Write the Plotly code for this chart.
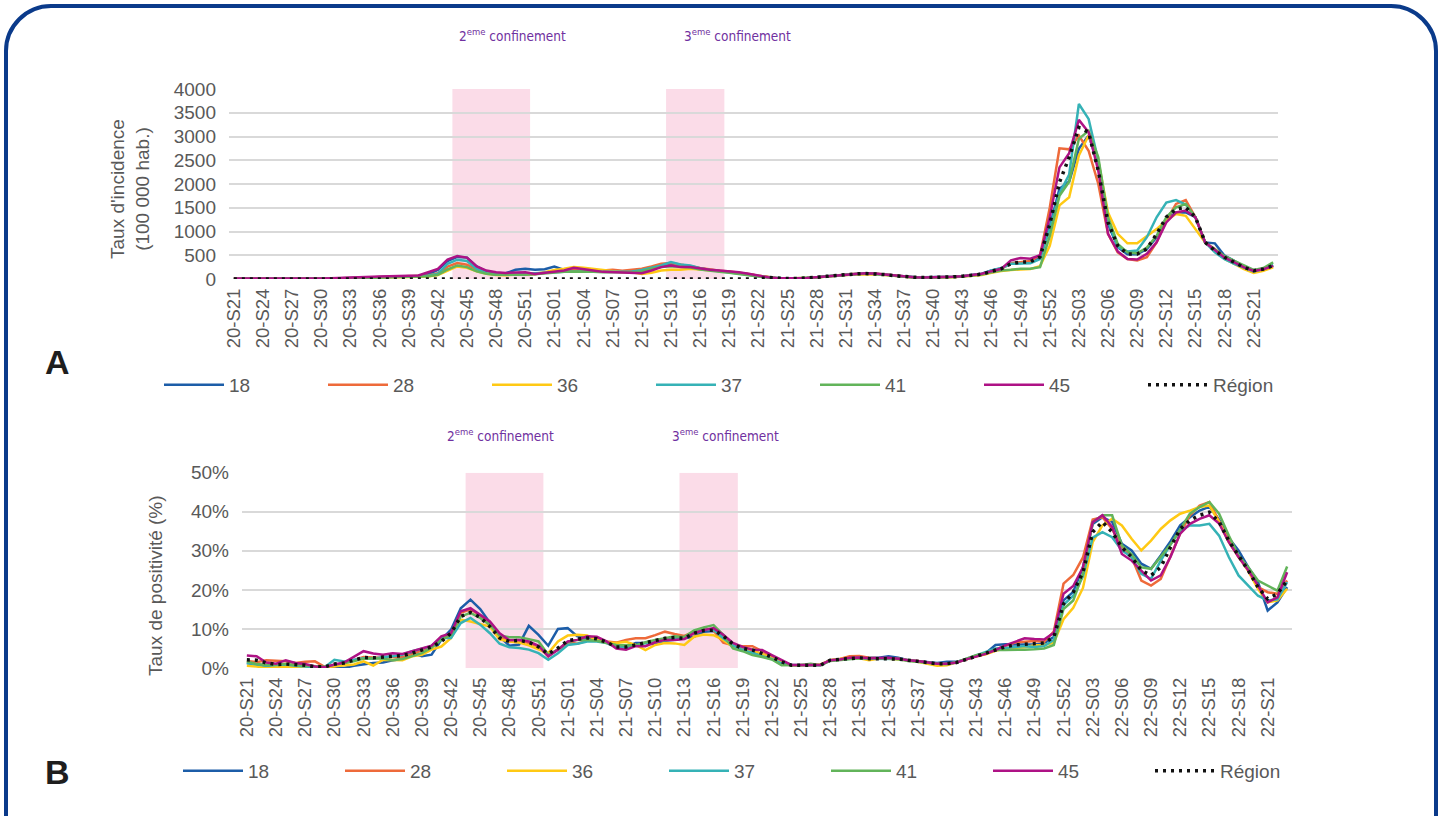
import plotly.graph_objects as go

# weekly categories 2020-S21 .. 2022-S23
weeks = ([f"20-S{w:02d}" for w in range(21, 54)]
         + [f"21-S{w:02d}" for w in range(1, 53)]
         + [f"22-S{w:02d}" for w in range(1, 24)])
tick_labels = weeks[::3]

departments = ["18", "28", "36", "37", "41", "45", "Région"]
colors = ["#1C5DA8", "#EE6A3A", "#FFC914", "#35B2B6", "#62B45A", "#AE1285", "#111111"]

# incidence rate (per 100 000 inhabitants)
inc_18 = [6, 5, 4, 4, 5, 5, 5, 6, 6, 8, 10, 15, 22, 28, 35, 40, 45, 50, 55, 62, 100, 190,
          378, 464, 450, 264, 160, 125, 120, 193, 214, 193, 207, 260, 190, 170, 160, 155, 150, 145,
          150, 160, 170, 220, 260, 300, 280, 270, 220, 190, 170, 150, 130, 100, 65, 35, 18, 12,
          14, 20, 35, 55, 78, 95, 105, 115, 110, 95, 72, 52, 40, 35, 35, 40, 45, 60, 80, 110,
          178, 220, 330, 350, 340, 460, 1100, 1900, 2050, 2740, 3020, 2420, 1160, 670, 520, 520,
          630, 880, 1260, 1400, 1400, 1300, 770, 750, 490, 380, 250, 175, 210, 280]
inc_28 = [5, 5, 4, 4, 5, 6, 5, 6, 7, 8, 10, 15, 20, 27, 33, 38, 43, 48, 52, 58, 75, 120,
          260, 335, 300, 200, 125, 95, 85, 88, 95, 100, 130, 150, 160, 190, 175, 165, 180, 193,
          175, 200, 214, 264, 321, 335, 307, 270, 230, 195, 175, 160, 140, 105, 70, 35, 15, 10,
          14, 22, 38, 60, 80, 95, 110, 120, 118, 95, 72, 50, 38, 32, 32, 38, 45, 58, 75, 100,
          160, 214, 330, 360, 380, 500, 1500, 2750, 2730, 3020, 2700, 2000, 950, 560, 420, 390,
          460, 770, 1230, 1580, 1660, 1300, 770, 630, 470, 370, 250, 170, 200, 270]
inc_36 = [3, 3, 3, 3, 4, 4, 4, 5, 5, 6, 8, 10, 14, 18, 22, 26, 30, 35, 40, 45, 55, 85,
          170, 264, 235, 160, 110, 85, 80, 85, 95, 110, 143, 190, 215, 250, 235, 214, 190, 170,
          143, 140, 107, 130, 178, 193, 195, 214, 200, 180, 165, 150, 125, 95, 60, 30, 14, 10,
          13, 20, 33, 52, 72, 85, 95, 100, 98, 85, 65, 45, 32, 26, 25, 30, 38, 50, 65, 85,
          130, 170, 190, 200, 210, 270, 700, 1550, 1720, 2600, 3020, 2490, 1400, 950, 750, 750,
          910, 1050, 1230, 1370, 1330, 1050, 770, 600, 420, 320, 210, 125, 175, 245]
inc_37 = [4, 4, 3, 3, 4, 5, 5, 5, 6, 7, 9, 13, 18, 24, 30, 35, 40, 45, 50, 56, 70, 110,
          321, 407, 378, 214, 121, 93, 90, 95, 110, 115, 120, 140, 150, 160, 160, 150, 150, 150,
          150, 160, 190, 235, 285, 357, 307, 285, 225, 190, 165, 150, 130, 100, 65, 33, 14, 10,
          13, 22, 36, 57, 78, 93, 107, 120, 112, 92, 70, 50, 38, 32, 32, 38, 45, 57, 75, 105,
          178, 230, 320, 330, 330, 420, 1050, 1800, 2200, 3685, 3370, 2490, 1230, 670, 580, 600,
          880, 1300, 1610, 1660, 1570, 1300, 770, 560, 420, 320, 245, 160, 210, 300]
inc_41 = [3, 3, 3, 3, 4, 4, 4, 5, 5, 6, 8, 11, 15, 20, 25, 30, 34, 38, 43, 48, 58, 90,
          200, 285, 250, 160, 110, 90, 85, 85, 90, 100, 120, 140, 150, 160, 160, 150, 140, 140,
          135, 140, 160, 214, 250, 270, 260, 240, 200, 170, 150, 130, 110, 80, 50, 25, 12, 9,
          12, 20, 33, 52, 72, 88, 100, 110, 108, 88, 66, 46, 34, 28, 28, 34, 42, 54, 70, 95,
          140, 180, 193, 214, 214, 250, 900, 1750, 2050, 2950, 3120, 2560, 1300, 740, 560, 540,
          660, 910, 1300, 1510, 1580, 1300, 770, 630, 480, 380, 280, 190, 230, 350]
inc_45 = [8, 7, 6, 6, 7, 8, 8, 9, 10, 12, 15, 25, 32, 40, 46, 52, 58, 64, 70, 76, 143, 214,
          407, 485, 450, 264, 178, 143, 128, 136, 140, 107, 128, 150, 180, 235, 214, 180, 150, 140,
          130, 125, 121, 180, 250, 285, 250, 250, 214, 193, 178, 164, 143, 110, 72, 36, 15, 10,
          14, 22, 37, 58, 80, 95, 110, 122, 115, 95, 72, 50, 38, 32, 33, 38, 45, 58, 78, 110,
          165, 214, 393, 443, 428, 500, 1300, 2350, 2650, 3350, 3090, 2280, 950, 580, 420, 410,
          530, 770, 1190, 1400, 1440, 1300, 770, 600, 450, 350, 245, 170, 205, 275]
inc_region = [0] * 55 + [
          32, 13, 10, 13, 21, 36, 56, 77, 92, 106, 117, 113, 93, 70, 49, 37, 31, 31, 37, 44, 57,
          75, 102, 160, 214, 321, 357, 360, 464, 1150, 2035, 2560, 3190, 3090, 2280, 1190, 700,
          526, 526, 632, 947, 1300, 1470, 1510, 1300, 772, 600, 456, 351, 246, 175, 210, 281]

# positivity rate (%)
pos_18 = [1.3, 0.9, 0.3, 0.0, 0.4, 0.6, 0.5, 0.3, 0.2, 0.2, 0.0, 0.6, 1.0, 1.3, 1.4, 2.0, 2.3,
          3.8, 3.0, 3.4, 7.2, 9.8, 15.3, 17.5, 15.1, 11.5, 8.1, 5.7, 6.0, 10.8, 8.5, 5.7, 10.0,
          10.2, 8.1, 7.7, 7.2, 6.5, 5.8, 5.4, 6.4, 6.4, 6.0, 7.0, 7.2, 7.6, 8.0, 9.3, 9.5, 8.0,
          6.0, 4.8, 4.4, 3.5, 2.6, 1.5, 0.8, 0.8, 0.7, 0.8, 2.0, 2.2, 2.4, 2.6, 2.6, 2.6, 3.0,
          2.6, 2.0, 1.8, 1.5, 1.3, 1.6, 1.6, 2.2, 3.0, 3.8, 5.9, 6.1, 6.0, 6.0, 6.0, 6.3, 8.0,
          17.3, 19.5, 25.8, 36.9, 38.6, 37.4, 31.8, 30.1, 26.7, 25.4, 28.8, 32.4, 36.5, 38.6,
          40.3, 41.3, 38.0, 33.3, 30.1, 25.8, 22.0, 14.7, 16.8, 20.7]
pos_28 = [1.8, 1.5, 2.0, 1.9, 1.7, 1.3, 1.6, 1.7, 0.3, 0.4, 1.2, 2.0, 2.8, 2.7, 2.6, 2.8, 2.8,
          3.5, 4.5, 5.6, 7.5, 8.8, 14.1, 15.0, 13.5, 10.8, 8.0, 6.8, 7.1, 6.4, 5.5, 3.0, 4.7,
          6.6, 6.2, 7.0, 7.4, 6.8, 6.5, 7.2, 7.6, 7.6, 8.4, 9.3, 8.7, 8.2, 9.3, 10.2, 9.6, 6.5,
          5.8, 5.6, 5.6, 4.4, 3.0, 1.5, 0.7, 0.7, 0.7, 0.9, 2.0, 2.3, 3.0, 3.1, 2.6, 2.5, 2.5,
          2.4, 2.0, 1.8, 1.4, 1.1, 1.0, 1.4, 2.2, 3.0, 3.6, 4.8, 5.6, 6.5, 6.7, 6.9, 6.7, 9.3,
          21.6, 23.8, 28.3, 38.0, 38.6, 35.6, 30.8, 28.4, 22.4, 21.1, 22.8, 28.8, 34.4, 39.1,
          41.6, 42.5, 37.4, 32.6, 28.4, 25.4, 20.7, 19.4, 19.0, 22.4]
pos_36 = [0.6, 0.4, 0.0, 0.3, 0.3, 0.3, 0.2, 0.0, 0.2, 0.4, 0.6, 0.9, 1.7, 0.6, 2.1, 2.0, 2.0,
          3.0, 3.4, 4.7, 5.5, 7.7, 12.4, 11.9, 11.3, 10.6, 7.3, 6.8, 6.5, 5.8, 4.8, 3.8, 6.8,
          8.3, 8.5, 8.3, 7.2, 6.5, 6.4, 6.7, 5.9, 4.6, 5.9, 6.4, 6.3, 5.9, 8.0, 8.6, 8.4, 7.2,
          5.4, 4.7, 4.6, 3.6, 2.6, 1.4, 0.7, 0.8, 0.8, 0.8, 2.0, 2.3, 2.5, 2.5, 2.0, 2.4, 2.4,
          2.2, 2.0, 1.6, 1.0, 0.6, 0.7, 1.4, 2.2, 3.0, 3.5, 4.4, 5.0, 5.2, 5.3, 5.8, 5.9, 6.5,
          12.5, 15.4, 20.5, 32.2, 36.5, 38.2, 36.5, 33.1, 30.1, 32.6, 35.6, 37.8, 39.5, 40.3,
          41.2, 41.6, 37.4, 32.2, 28.4, 24.8, 20.3, 16.8, 17.3, 20.3]
pos_37 = [1.3, 1.0, 0.6, 0.8, 0.9, 0.6, 0.4, 0.2, 0.2, 2.1, 1.7, 2.1, 2.5, 2.4, 2.8, 3.0, 3.4,
          4.3, 4.9, 5.6, 7.7, 7.7, 11.5, 12.8, 11.1, 8.9, 6.2, 5.3, 5.1, 4.7, 3.8, 2.1, 3.8,
          5.9, 6.2, 6.8, 6.8, 6.4, 5.4, 5.2, 5.8, 6.4, 6.6, 7.2, 7.6, 7.8, 9.0, 9.8, 9.8, 7.6,
          5.8, 4.6, 3.7, 3.0, 2.3, 1.2, 0.8, 0.8, 0.8, 0.7, 1.9, 2.1, 2.4, 2.6, 2.4, 2.4, 2.4,
          2.3, 2.0, 1.7, 1.3, 1.1, 1.0, 1.4, 2.3, 3.2, 4.0, 5.0, 5.1, 5.4, 5.6, 5.4, 5.6, 7.2,
          16.2, 18.5, 23.5, 33.4, 34.8, 33.5, 30.1, 28.4, 24.1, 22.8, 27.5, 31.6, 35.2, 36.5,
          36.5, 36.9, 33.9, 28.4, 23.7, 21.1, 18.5, 17.3, 17.6, 22.0]
pos_41 = [1.7, 1.0, 0.8, 0.9, 1.0, 0.8, 0.6, 0.5, 0.3, 0.8, 1.3, 1.7, 2.4, 2.5, 2.4, 2.0, 2.3,
          3.0, 3.8, 5.2, 7.2, 8.5, 13.2, 14.1, 12.8, 11.0, 8.3, 7.9, 7.9, 7.4, 6.8, 3.4, 4.7,
          6.6, 7.2, 7.2, 7.0, 6.4, 5.9, 5.8, 5.8, 6.6, 7.2, 7.6, 8.1, 7.9, 9.6, 10.4, 11.0, 8.5,
          5.0, 4.3, 3.3, 2.8, 2.2, 0.7, 0.7, 0.8, 1.1, 0.7, 1.8, 2.0, 2.3, 2.5, 2.4, 2.4, 2.5,
          2.3, 1.8, 1.6, 1.3, 1.1, 1.0, 1.5, 2.4, 3.3, 3.8, 4.6, 4.6, 4.6, 4.7, 4.8, 5.0, 5.9,
          15.1, 17.3, 24.1, 37.3, 39.1, 39.1, 31.4, 29.1, 25.8, 25.4, 28.4, 31.6, 35.5, 39.5,
          41.2, 42.5, 39.5, 33.9, 28.8, 25.8, 22.4, 21.1, 19.8, 26.0]
pos_45 = [3.2, 3.0, 1.4, 1.1, 2.0, 1.3, 1.0, 0.4, 0.2, 0.9, 1.4, 2.8, 4.3, 3.7, 3.4, 3.8, 3.6,
          4.3, 5.1, 5.7, 8.1, 8.9, 14.5, 15.3, 13.6, 11.9, 8.9, 7.1, 7.2, 6.8, 5.7, 3.0, 4.7,
          6.8, 7.2, 8.1, 8.0, 6.8, 5.0, 4.7, 5.6, 5.6, 6.6, 7.2, 7.2, 7.4, 8.9, 9.7, 10.2, 8.5,
          6.4, 5.4, 4.7, 4.6, 3.3, 2.0, 0.8, 0.8, 0.8, 0.8, 2.0, 2.2, 2.6, 2.7, 2.5, 2.5, 2.6,
          2.4, 2.0, 1.8, 1.4, 1.1, 1.1, 1.4, 2.2, 2.9, 3.6, 4.6, 5.8, 6.7, 7.6, 7.4, 7.3, 9.0,
          19.0, 21.0, 25.8, 37.3, 39.1, 36.1, 29.2, 27.5, 25.0, 22.4, 23.7, 28.4, 34.4, 36.9,
          38.2, 39.1, 37.0, 32.2, 28.4, 25.0, 21.1, 16.8, 18.1, 24.5]
pos_region = [2.1, 2.0, 1.3, 0.9, 1.0, 0.9, 0.7, 0.3, 0.3, 1.0, 1.3, 2.0, 2.7, 2.6, 2.8, 3.2,
          3.2, 3.8, 4.7, 5.4, 6.8, 8.9, 13.2, 14.2, 13.0, 10.6, 7.7, 6.8, 7.1, 6.6, 5.4, 3.6,
          5.1, 7.0, 7.4, 7.7, 7.5, 6.6, 5.4, 5.4, 5.9, 6.5, 7.2, 7.6, 7.8, 7.6, 8.9, 9.6, 9.7,
          8.2, 6.1, 5.0, 4.6, 3.7, 2.8, 1.6, 0.7, 0.7, 0.8, 0.7, 2.0, 2.2, 2.5, 2.6, 2.4, 2.4,
          2.5, 2.3, 2.0, 1.8, 1.4, 1.1, 1.1, 1.4, 2.2, 3.0, 3.7, 4.6, 5.4, 5.9, 6.1, 6.3, 6.4,
          7.9, 16.4, 19.4, 24.5, 34.8, 37.4, 34.8, 30.9, 28.4, 25.0, 23.7, 25.8, 30.9, 35.6,
          37.8, 39.1, 39.9, 37.4, 32.6, 28.8, 25.0, 20.7, 17.7, 19.0, 22.4]

incidence = [inc_18, inc_28, inc_36, inc_37, inc_41, inc_45, inc_region]
positivity = [pos_18, pos_28, pos_36, pos_37, pos_41, pos_45, pos_region]

# lockdown periods (first and last week)
lockdowns = [("2", "20-S44", "20-S51"), ("3", "21-S13", "21-S18")]

W, H = 1442, 816
FONT = "Liberation Sans, Arial, sans-serif"
NARROW = "Liberation Sans Narrow, Arial Narrow, DejaVu Sans Condensed, Liberation Sans"
GREY = "#595959"
PINK = "#FBDCE8"
PURPLE = "#7030A0"


def px(x):
    return x / W


def py(y):
    return 1 - y / H


fig = go.Figure()

for k, (name, color) in enumerate(zip(departments, colors)):
    is_region = name == "Région"
    line = dict(color=color, width=3.5 if is_region else 2.5)
    if is_region:
        line["dash"] = "3px,5px"
    fig.add_trace(go.Scatter(x=weeks, y=incidence[k], name=name, mode="lines", line=line,
                             xaxis="x", yaxis="y", legend="legend", hoverinfo="skip"))
    fig.add_trace(go.Scatter(x=weeks, y=positivity[k], name=name, mode="lines", line=line,
                             xaxis="x2", yaxis="y2", legend="legend2", hoverinfo="skip"))

shapes = []
for _, first, last in lockdowns:
    i0, i1 = weeks.index(first) - 0.5, weeks.index(last) + 0.5
    shapes.append(dict(type="rect", xref="x", yref="y", x0=i0, x1=i1, y0=0, y1=4000,
                       fillcolor=PINK, line_width=0, layer="below"))
    shapes.append(dict(type="rect", xref="x2", yref="y2", x0=i0, x1=i1, y0=0, y1=50,
                       fillcolor=PINK, line_width=0, layer="below"))

# rounded frame around the figure (open at the bottom)
r, m, k = 45, 6, 0.45
frame = (f"M {px(m)} {py(H + 20)} L {px(m)} {py(m + r)} "
         f"C {px(m)} {py(m + r * k)} {px(m + r * k)} {py(m)} {px(m + r)} {py(m)} "
         f"L {px(W - m - r)} {py(m)} "
         f"C {px(W - m - r * k)} {py(m)} {px(W - m)} {py(m + r * k)} {px(W - m)} {py(m + r)} "
         f"L {px(W - m)} {py(H + 20)}")
shapes.append(dict(type="path", xref="paper", yref="paper", path=frame,
                   line=dict(color="#0A3A8A", width=4)))


def note(text, cx, cy, font, angle=0):
    return dict(text=text, x=px(cx), y=py(cy), xref="paper", yref="paper", showarrow=False,
                xanchor="center", yanchor="middle", textangle=angle, font=font)


annotations = []
for (num, _, _), ax, bx in zip(lockdowns, [512, 737], [500, 725]):
    for cx, cy in [(ax, 35), (bx, 435)]:
        annotations.append(note(f"{num}<sup>eme</sup> confinement", cx, cy,
                                dict(family=NARROW, size=13.5, color=PURPLE)))
for letter, cx, cy in [("A", 57, 362), ("B", 57, 772)]:
    annotations.append(note(f"<b>{letter}</b>", cx, cy,
                            dict(family=FONT, size=34, color="#1E1E1E")))
annotations.append(note("Taux d'incidence<br>(100 000 hab.)", 130, 189,
                        dict(family=FONT, size=19, color=GREY), -90))
annotations.append(note("Taux de positivité (%)", 155, 586,
                        dict(family=FONT, size=19, color=GREY), -90))

xcommon = dict(type="category", tickmode="array", tickvals=tick_labels, ticktext=tick_labels,
               tickangle=-90, range=[-0.5, len(weeks) - 0.5], showgrid=False, showline=False,
               zeroline=False, ticks="", automargin=False, ticklabelstandoff=5,
               tickfont=dict(family=FONT, size=18.5, color=GREY))
ycommon = dict(showgrid=True, gridcolor="#D9D9D9", gridwidth=1.5, zeroline=False,
               showline=False, ticks="", automargin=False, ticklabelstandoff=12,
               tickfont=dict(family=FONT, size=19, color=GREY))

legcommon = dict(orientation="h", xanchor="left", yanchor="middle", entrywidthmode="pixels",
                 bgcolor="rgba(0,0,0,0)", font=dict(family=FONT, size=19, color=GREY),
                 traceorder="normal", itemwidth=60)

fig.update_layout(
    width=W, height=H, autosize=False,
    margin=dict(l=0, r=0, t=0, b=0, autoexpand=False),
    paper_bgcolor="white", plot_bgcolor="white",
    xaxis=dict(domain=[px(229), px(1278)], anchor="y", **xcommon),
    yaxis=dict(domain=[py(279), py(89)], anchor="x", range=[0, 4000], dtick=500, **ycommon),
    xaxis2=dict(domain=[px(242), px(1292)], anchor="y2", **xcommon),
    yaxis2=dict(domain=[py(668), py(472.7)], anchor="x2", range=[0, 50], dtick=10,
                ticksuffix="%", **ycommon),
    legend=dict(x=px(159), y=py(385), entrywidth=89, **legcommon),
    legend2=dict(x=px(178), y=py(771), entrywidth=87, **legcommon),
    shapes=shapes,
    annotations=annotations,
)

fig.write_html("out.html", config={"displayModeBar": False},
               post_script="document.body.style.margin = '0px';")
